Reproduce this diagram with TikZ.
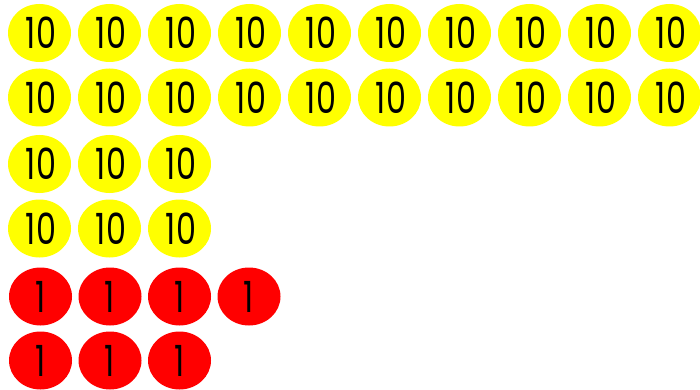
\documentclass[tikz,border=0pt]{standalone}
\usepackage{fontspec}
\setmainfont{Poppins}
\usetikzlibrary{shapes.geometric}
\definecolor{coinyellow}{RGB}{255,255,0}
\definecolor{coinred}{RGB}{255,0,0}
\newcommand{\coinlabel}[1]{\scalebox{0.74}[1]{#1}}
\tikzset{
  coin/.style={ellipse, minimum width=63pt, minimum height=58pt, inner sep=0pt,
    text=black, font=\fontsize{43}{43}\selectfont},
  ten/.style={coin, fill=coinyellow},
  one/.style={coin, fill=coinred}
}
\begin{document}
\begin{tikzpicture}[x=1pt,y=-1pt]
\useasboundingbox (0,0) rectangle (700,390);
\foreach \i in {0,...,9}{
  \node[ten] (a\i) at (39.5+70*\i,33) {\hspace{3pt}\coinlabel{10}};
  \node[ten] (b\i) at (39.5+70*\i,97.5) {\hspace{3pt}\coinlabel{10}};
}
\foreach \i in {0,1,2}{
  \node[ten] (c\i) at (39.5+70*\i,164) {\hspace{3pt}\coinlabel{10}};
  \node[ten] (d\i) at (39.5+70*\i,228.5) {\hspace{3pt}\coinlabel{10}};
}
\foreach \i in {0,...,3}{
  \node[one] (e\i) at (40.5+69.5*\i,296.5) {\coinlabel{1}};
}
\foreach \i in {0,1,2}{
  \node[one] (f\i) at (40.5+69.5*\i,360.5) {\coinlabel{1}};
}
\end{tikzpicture}
\end{document}
